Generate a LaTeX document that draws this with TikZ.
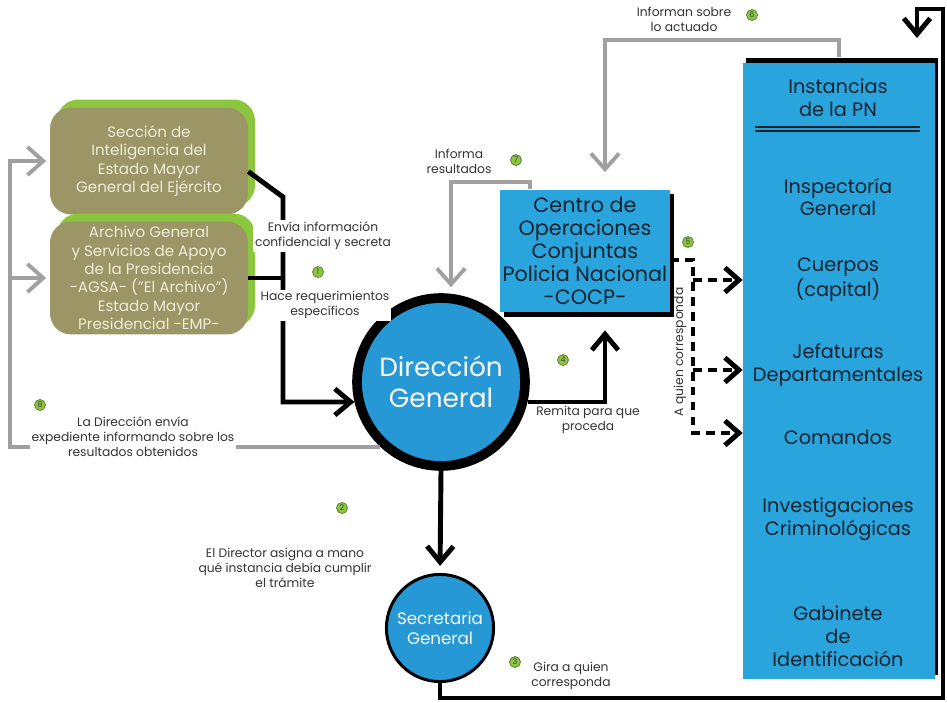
\documentclass[tikz,border=0pt]{standalone}
\usepackage{fontspec}
\setmainfont{Poppins}
\usepackage{tikz}
\usetikzlibrary{arrows.meta, shadows}
\definecolor{boxolive}{RGB}{156,150,102}
\definecolor{boxlime}{RGB}{140,198,63}
\definecolor{boxtext}{RGB}{238,236,218}
\definecolor{pnblue}{RGB}{41,164,221}
\definecolor{dirblue}{RGB}{38,152,214}
\definecolor{pntext}{RGB}{25,35,45}
\definecolor{notetext}{RGB}{55,50,50}
\definecolor{greyline}{RGB}{160,160,160}
\tikzstyle{olivebox} = [rectangle, rounded corners=12pt, minimum width=3.96cm, inner sep=0.5pt, align=center, fill=boxolive, text=boxtext, font=\fontsize{8.6}{10.5}\selectfont, general shadow={fill=boxlime, shadow xshift=4pt, shadow yshift=4.5pt}]
\tikzstyle{cocpbox} = [rectangle, minimum width=3.4cm, minimum height=2.46cm, inner sep=1pt, align=center, fill=pnblue, text=pntext, font=\fontsize{11.8}{13}\selectfont, general shadow={fill=black, shadow xshift=2.5pt, shadow yshift=-2.5pt}]
\tikzstyle{pnbox} = [rectangle, minimum width=3.84cm, minimum height=12.34cm, fill=pnblue, general shadow={fill=black, shadow xshift=1.7pt, shadow yshift=2.8pt}]
\tikzstyle{pnitem} = [align=center, text=pntext, font=\fontsize{11}{13}\selectfont]
\tikzstyle{dircircle} = [circle, minimum size=3.36cm, line width=5.5pt, draw=black, fill=dirblue, align=center, text=boxtext!30!white, font=\fontsize{15}{17.5}\selectfont]
\tikzstyle{seccircle} = [circle, minimum size=2.14cm, line width=1.7pt, draw=black, fill=dirblue, align=center, text=boxtext!30!white, font=\fontsize{9.5}{11.5}\selectfont]
\tikzstyle{note} = [align=center, inner sep=1pt, text=notetext, font=\fontsize{7}{8.5}\selectfont]
\tikzstyle{badge} = [circle, minimum size=0.22cm, inner sep=0pt, fill=boxlime, draw=boxlime!60!black, line width=0.4pt, text=black!75, font=\fontsize{4.5}{5}\selectfont]
\tikzstyle{blackline} = [line width=2.8pt]
\tikzstyle{blackarrow} = [line width=2.8pt, -{Straight Barb[length=9pt, width=15pt]}]
\tikzstyle{greyarrow} = [line width=2.2pt, draw=greyline, -{Straight Barb[length=9pt, width=16pt]}]
\tikzstyle{dasharrow} = [line width=2.8pt, dash pattern=on 5pt off 3.5pt, -{Straight Barb[length=8pt, width=14pt]}]
\tikzstyle{dline} = [line width=0.9pt, double=pnblue, double distance=1.1pt, draw=pntext]

\begin{document}
\begin{tikzpicture}[x=0.02cm, y=-0.02cm]
    \useasboundingbox (0,0) rectangle (947,703);

    \node (sie) [olivebox, minimum height=2.14cm] at (149,161) {Sección de\\Inteligencia del\\Estado Mayor\\General del Ejército};
    \node (agsa) [olivebox, minimum height=2.26cm] at (149,278) {Archivo General\\y Servicios de Apoyo\\de la Presidencia\\-AGSA- ("El Archivo")\\Estado Mayor\\Presidencial -EMP-};
    \node (cocp) [cocpbox] at (585,251) {Centro de\\Operaciones\\Conjuntas\\Policia Nacional\\-COCP-};
    \node (dir) [dircircle] at (441,382) {Dirección\\General};
    \node (sec) [seccircle] at (440,628) {Secretaria\\General};

    \node (pn) [pnbox] at (839,371) {};
    \node (head) [pnitem] at (838,98) {Instancias\\de la PN};
    \node (insp) [pnitem] at (838,197) {Inspectoría\\General};
    \node (cuer) [pnitem] at (838,280) {Cuerpos\\(capital)};
    \node (jef) [pnitem] at (838,365) {Jefaturas\\Departamentales};
    \node (com) [pnitem] at (838,437) {Comandos};
    \node (inv) [pnitem] at (838,519) {Investigaciones\\Criminológicas};
    \node (gab) [pnitem] at (838,636) {Gabinete\\de\\Identificación};
    \draw [dline] (755,129) -- (920,129);

    \coordinate (back) at (917,38);
    \coordinate (split) at (693,260);
    \coordinate (splitA) at (693,280);
    \coordinate (splitB) at (693,370);
    \coordinate (retA) at (10,278);

    \draw [blackarrow] ([yshift=-6pt]sie.east) -- (283,197) |- (dir.193);
    \draw [blackline] (agsa.east) -- (283,0 |- agsa.east);
    \draw [blackarrow, shorten >=4pt] (dir.south) -- (sec.north);
    \draw [blackarrow] (sec.south) |- (943,698) |- (917,9) -- (back);
    \draw [blackarrow, shorten >=10pt] (dir.347) -| ([shift={(20,0)}]cocp.south);
    \draw [dasharrow] ([shift={(0,9)}]cocp.east) -- (split) |- (pn.west |- 0,433);
    \draw [dasharrow] (splitA) -- (pn.west |- splitA);
    \draw [dasharrow] (splitB) -- (pn.west |- splitB);
    \draw [greyarrow] ([yshift=3pt]pn.north) |- (605,40) -- ([shift={(20,-17)}]cocp.north);
    \draw [greyarrow] ([shift={(-55,0)}]cocp.north) |- (451,182) -- ([shift={(10,-6)}]dir.north);
    \draw [greyarrow, shorten >=2pt] (dir.227) -| (10,0 |- sie.west) -- (sie.west);
    \draw [greyarrow, shorten >=2pt] (retA) -- (agsa.west);

    \node (n1a) [note, fill=white] at (323,236) {Envía información\\confidencial y secreta};
    \node (n1b) [note, fill=white] at (325,305) {Hace requerimientos\\específicos};
    \node (n2) [note] at (285,568) {El Director asigna a mano\\qué instancia debía cumplir\\el trámite};
    \node (n3) [note] at (571,676) {Gira a quien\\corresponda};
    \node (n4) [note] at (588,420) {Remita para que\\proceda};
    \node (n5) [note, rotate=90] at (680,352) {A quien corresponda};
    \node (n6) [note] at (684,19) {Informan sobre\\lo actuado};
    \node (n7) [note] at (459,161) {Informa\\resultados};
    \node (n8) [note, fill=white] at (133,437) {La Dirección envía\\expediente informando sobre los\\resultados obtenidos};

    \node (b1) [badge] at (318,272) {1};
    \node (b2) [badge] at (342,508) {2};
    \node (b3) [badge] at (515,662) {3};
    \node (b4) [badge] at (563,360) {4};
    \node (b5) [badge] at (688,242) {5};
    \node (b6) [badge] at (752,15) {6};
    \node (b7) [badge] at (516,160) {7};
    \node (b8) [badge] at (40,405) {8};
\end{tikzpicture}
\end{document}
